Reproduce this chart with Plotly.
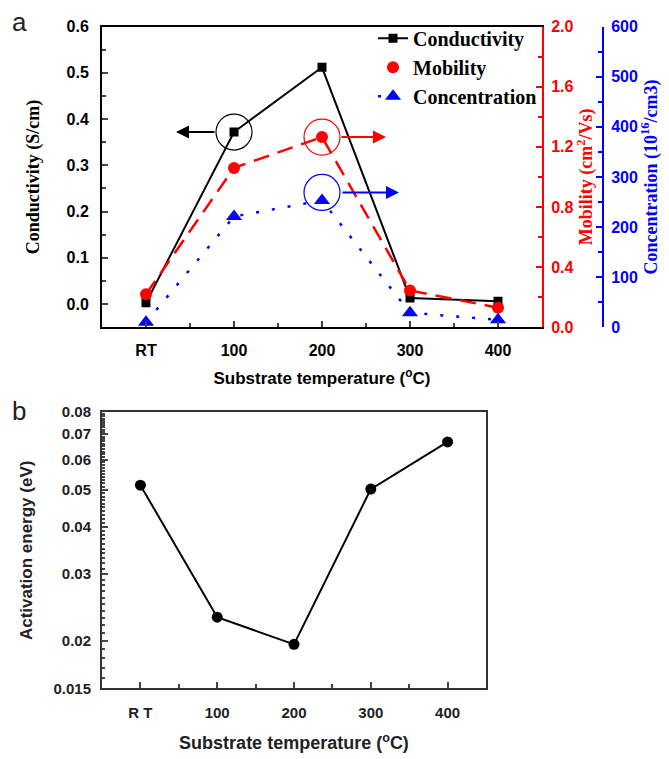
import plotly.graph_objects as go
import numpy as np

# ---- data ----
categories = ["RT", "100", "200", "300", "400"]
categories_b = ["R T", "100", "200", "300", "400"]
conductivity = [0.003, 0.372, 0.512, 0.013, 0.006]      # S/cm
mobility = [0.22, 1.06, 1.265, 0.245, 0.13]              # cm2/Vs
concentration = [10, 221, 253, 29, 15]                   # 1e16/cm3
activation = [0.0514, 0.0231, 0.0196, 0.0502, 0.0668]    # eV

idx = list(range(len(categories)))

W, H = 669, 759
def px(v): return v / W
def py(v): return 1 - v / H

sans = "Liberation Sans"
serif = "Liberation Serif"

fig = go.Figure()

fig.add_trace(go.Scatter(x=idx, y=conductivity, name="Conductivity", mode="lines+markers",
                         line=dict(color="black", width=2),
                         marker=dict(symbol="square", size=9, color="black"),
                         xaxis="x", yaxis="y"))
fig.add_trace(go.Scatter(x=idx, y=mobility, name="Mobility", mode="lines+markers", showlegend=False,
                         line=dict(color="#ff0000", width=2.5, dash="16px,9px"),
                         marker=dict(symbol="circle", size=12, color="#ff0000"),
                         xaxis="x", yaxis="y2"))
# legend entry for mobility shows the marker only, as in the original
fig.add_trace(go.Scatter(x=[None], y=[None], name="Mobility", mode="markers",
                         marker=dict(symbol="circle", size=12, color="#ff0000"),
                         xaxis="x", yaxis="y2"))
fig.add_trace(go.Scatter(x=idx, y=concentration, name="Concentration", mode="lines+markers",
                         line=dict(color="#0000ff", width=2.5, dash="3px,13px"),
                         marker=dict(symbol="triangle-up", size=14, color="#0000ff"),
                         xaxis="x", yaxis="y3"))

fig.add_trace(go.Scatter(x=idx, y=activation, mode="lines+markers", showlegend=False,
                         line=dict(color="black", width=2),
                         marker=dict(symbol="circle", size=11, color="black"),
                         xaxis="x2", yaxis="y4"))

tickfont = dict(family=sans, size=16, color="black", weight="bold")
titlefont_serif = dict(family=serif, size=18, color="black", weight="bold")

minor_b = [round(v, 3) for v in np.arange(0.015, 0.0801, 0.001)]

fig.update_layout(
    width=W, height=H, margin=dict(l=0, r=0, t=0, b=0),
    paper_bgcolor="white", plot_bgcolor="white",
    showlegend=True,
    legend=dict(x=px(542), xanchor="right", y=py(10), yanchor="top",
                bgcolor="rgba(0,0,0,0)", font=dict(family=serif, size=20, color="black", weight="bold"),
                itemwidth=30, tracegroupgap=0),
    xaxis=dict(domain=[px(102), px(542)], anchor="y", range=[-0.5, 4.5],
               tickvals=idx, ticktext=categories, ticks="inside", ticklen=6, tickwidth=1.5,
               minor=dict(dtick=0.5, tick0=0, ticks="inside", ticklen=4),
               showline=True, linecolor="black", linewidth=2, mirror=True,
               showgrid=False, zeroline=False, tickfont=tickfont, ticklabelstandoff=8,
               title=dict(text="Substrate temperature (<sup>o</sup>C)",
                          font=dict(family=sans, size=17, color="black", weight="bold"), standoff=14)),
    yaxis=dict(domain=[py(326), py(18)], anchor="x", range=[-0.05, 0.6],
               tickvals=[0.0, 0.1, 0.2, 0.3, 0.4, 0.5, 0.6], tickformat=".1f",
               ticks="inside", ticklen=6, tickwidth=1.5,
               minor=dict(dtick=0.05, tick0=0, ticks="inside", ticklen=4),
               showline=True, linecolor="black", linewidth=2,
               showgrid=False, zeroline=False, tickfont=tickfont, ticklabelstandoff=8,
               title=dict(text="Conductivity (S/cm)", font=titlefont_serif, standoff=22)),
    yaxis2=dict(overlaying="y", anchor="x", side="right", range=[0, 2.0],
                tickvals=[0.0, 0.4, 0.8, 1.2, 1.6, 2.0], tickformat=".1f",
                ticks="inside", ticklen=6, tickwidth=1.5,
                minor=dict(dtick=0.2, ticks="inside", ticklen=4, tickcolor="#ff0000"),
                showline=True, linecolor="#ff0000", linewidth=2, tickcolor="#ff0000",
                showgrid=False, zeroline=False, ticklabelstandoff=4,
                tickfont=dict(family=sans, size=16, color="#ff0000", weight="bold"),
                title=dict(text="Mobility (cm<sup>2</sup>/Vs)",
                           font=dict(family=serif, size=18, color="#ff0000", weight="bold"), standoff=0)),
    yaxis3=dict(overlaying="y", anchor="free", position=px(603), side="right", range=[0, 600],
                tickvals=[0, 100, 200, 300, 400, 500, 600],
                ticks="inside", ticklen=6, tickwidth=1.5,
                minor=dict(dtick=50, ticks="inside", ticklen=4, tickcolor="#0000ff"),
                showline=True, linecolor="#0000ff", linewidth=2, tickcolor="#0000ff",
                showgrid=False, zeroline=False, ticklabelstandoff=4,
                tickfont=dict(family=sans, size=16, color="#0000ff", weight="bold"),
                title=dict(text="Concentration (10<sup>16</sup>/cm3)",
                           font=dict(family=serif, size=18, color="#0000ff", weight="bold"), standoff=2)),
    xaxis2=dict(domain=[px(102), px(486)], anchor="y4", range=[-0.5, 4.5],
                tickvals=idx, ticktext=categories_b, ticks="inside", ticklen=6, tickwidth=1.5,
                minor=dict(dtick=0.5, tick0=0, ticks="inside", ticklen=4),
                showline=True, linecolor="#333333", linewidth=2, mirror=True,
                showgrid=False, zeroline=False, ticklabelstandoff=10,
                tickfont=dict(family=sans, size=15, color="#222222", weight="bold"),
                title=dict(text="Substrate temperature (<sup>o</sup>C)",
                           font=dict(family=sans, size=18, color="#222222", weight="bold"), standoff=16)),
    yaxis4=dict(domain=[py(696), py(413)], anchor="x2", type="log",
                range=[np.log10(0.015), np.log10(0.08)],
                tickvals=[0.015, 0.02, 0.03, 0.04, 0.05, 0.06, 0.07, 0.08],
                ticktext=["0.015", "0.02", "0.03", "0.04", "0.05", "0.06", "0.07", "0.08"],
                ticks="inside", ticklen=6, tickwidth=1.5,
                minor=dict(tickvals=minor_b, ticks="inside", ticklen=3),
                showline=True, linecolor="#333333", linewidth=2, mirror=True,
                showgrid=False, zeroline=False, ticklabelstandoff=6,
                tickfont=dict(family=sans, size=15, color="#222222", weight="bold"),
                title=dict(text="Activation energy (eV)",
                           font=dict(family=sans, size=17, color="#222222", weight="bold"), standoff=16)),
)

# circles highlighting points
R = 18
fig.add_shape(type="circle", xref="x", yref="y", xsizemode="pixel", ysizemode="pixel",
              xanchor=idx[1], yanchor=conductivity[1], x0=-R, x1=R, y0=-R, y1=R,
              line=dict(color="black", width=1.2))
fig.add_shape(type="circle", xref="x", yref="y2", xsizemode="pixel", ysizemode="pixel",
              xanchor=idx[2], yanchor=mobility[2], x0=-R, x1=R, y0=-R, y1=R,
              line=dict(color="#ff0000", width=1.2))
fig.add_shape(type="circle", xref="x", yref="y3", xsizemode="pixel", ysizemode="pixel",
              xanchor=idx[2], yanchor=concentration[2], x0=-R, x1=R, y0=-R + 8, y1=R + 8,
              line=dict(color="#0000ff", width=1.2))

# arrows
fig.add_annotation(x=idx[1], y=conductivity[1], xref="x", yref="y", xshift=-58,
                   ax=40, ay=0, text="", showarrow=True, arrowhead=2, arrowsize=1.3,
                   arrowwidth=2, arrowcolor="black")
fig.add_annotation(x=idx[2], y=mobility[2], xref="x", yref="y2", xshift=64,
                   ax=-46, ay=0, text="", showarrow=True, arrowhead=2, arrowsize=1.3,
                   arrowwidth=2, arrowcolor="#ff0000")
fig.add_annotation(x=idx[2], y=concentration[2], xref="x", yref="y3", xshift=77, yshift=8,
                   ax=-58, ay=0, text="", showarrow=True, arrowhead=2, arrowsize=1.3,
                   arrowwidth=2, arrowcolor="#0000ff")

# panel labels
fig.add_annotation(x=px(10), y=py(-4), xref="paper", yref="paper", xanchor="left", yanchor="top",
                   text="a", showarrow=False, font=dict(family=sans, size=26, color="#222222"))
fig.add_annotation(x=px(10), y=py(394), xref="paper", yref="paper", xanchor="left", yanchor="top",
                   text="b", showarrow=False, font=dict(family=sans, size=26, color="#222222"))

fig.write_html("out.html")
